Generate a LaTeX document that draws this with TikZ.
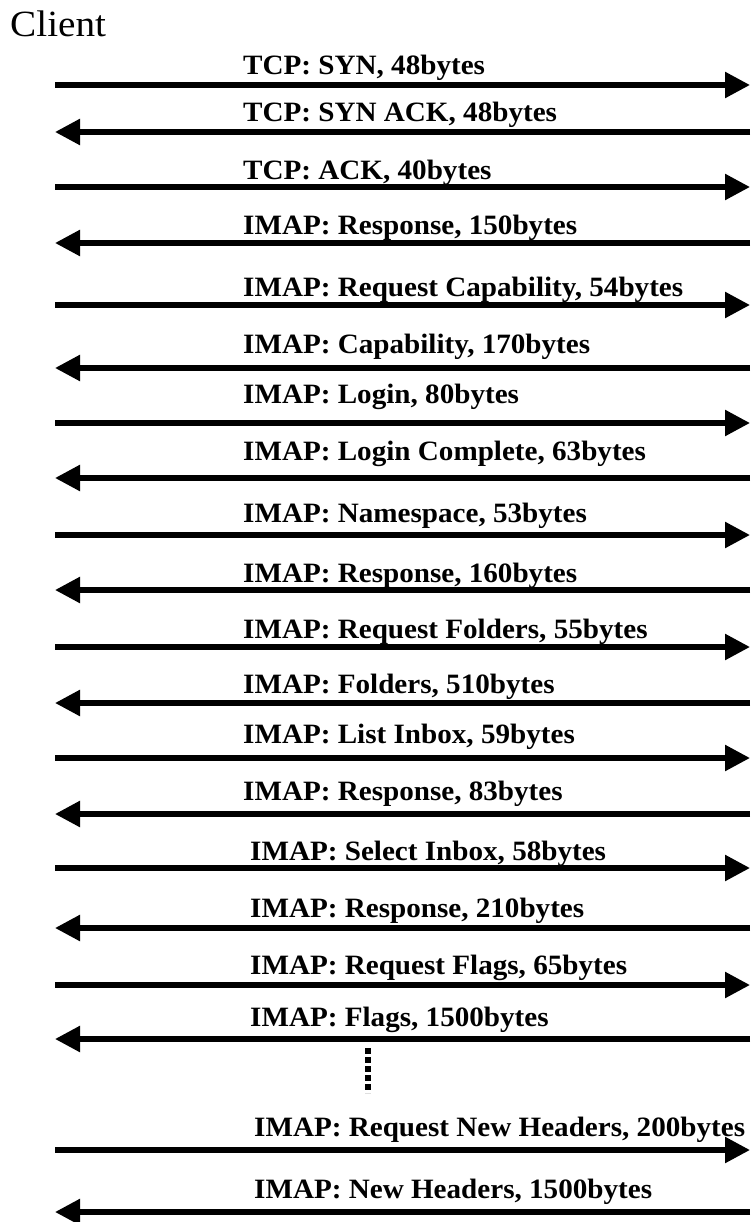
\documentclass[tikz,border=0pt]{standalone}
\usepackage{fontspec}
\setmainfont{Liberation Serif}
\newfontfamily\lblfont[FakeStretch=1.04]{Liberation Serif}
\newfontfamily\clientfont[FakeStretch=1.06]{Liberation Serif}
\usetikzlibrary{arrows.meta}
\begin{document}
\begin{tikzpicture}[x=1pt,y=-1pt,
  msg/.style={line width=5.5pt, -{Triangle[length=25pt,width=25pt]}},
  lbl/.style={anchor=base west, inner sep=0pt, font=\lblfont\bfseries\fontsize{28}{28}\selectfont},
  dots/.style={line width=6.5pt, dash pattern=on 6pt off 3pt}]
\useasboundingbox (0,0) rectangle (750,1222);
\node[anchor=base west, inner sep=0pt, font=\clientfont\fontsize{37}{37}\selectfont] (client) at (10,37) {Client};
% client -> server
\foreach \i/\yl/\yb/\xt/\txt in {
  1/85/75/243/{TCP: SYN, 48bytes},
  3/187/180/243/{TCP: ACK, 40bytes},
  5/305/297/243/{IMAP: Request Capability, 54bytes},
  7/423/403/243/{IMAP: Login, 80bytes},
  9/535/522/243/{IMAP: Namespace, 53bytes},
  11/647/638/243/{IMAP: Request Folders, 55bytes},
  13/758/743/243/{IMAP: List Inbox, 59bytes},
  15/868/860/250/{IMAP: Select Inbox, 58bytes},
  17/985/974/250/{IMAP: Request Flags, 65bytes},
  19/1150/1136/254/{IMAP: Request New Headers, 200bytes}}{
  \coordinate (L\i) at (55,\yl);
  \coordinate (R\i) at (750,\yl);
  \node[lbl] (t\i) at (\xt,\yb) {\txt};
  \draw[msg] (L\i) -- (R\i);
}
% server -> client
\foreach \i/\yl/\yb/\xt/\txt in {
  2/132/122/243/{TCP: SYN ACK, 48bytes},
  4/243/235/243/{IMAP: Response, 150bytes},
  6/368/353/243/{IMAP: Capability, 170bytes},
  8/478/460/243/{IMAP: Login Complete, 63bytes},
  10/590/582/243/{IMAP: Response, 160bytes},
  12/703/693/243/{IMAP: Folders, 510bytes},
  14/814/800/243/{IMAP: Response, 83bytes},
  16/928/917/250/{IMAP: Response, 210bytes},
  18/1039/1026/250/{IMAP: Flags, 1500bytes},
  20/1212/1198/254/{IMAP: New Headers, 1500bytes}}{
  \coordinate (L\i) at (55,\yl);
  \coordinate (R\i) at (750,\yl);
  \node[lbl] (t\i) at (\xt,\yb) {\txt};
  \draw[msg] (R\i) -- (L\i);
}
\coordinate (d1) at (368,1048);
\coordinate (d2) at (368,1093);
\draw[dots] (d1) -- (d2);
\end{tikzpicture}
\end{document}
